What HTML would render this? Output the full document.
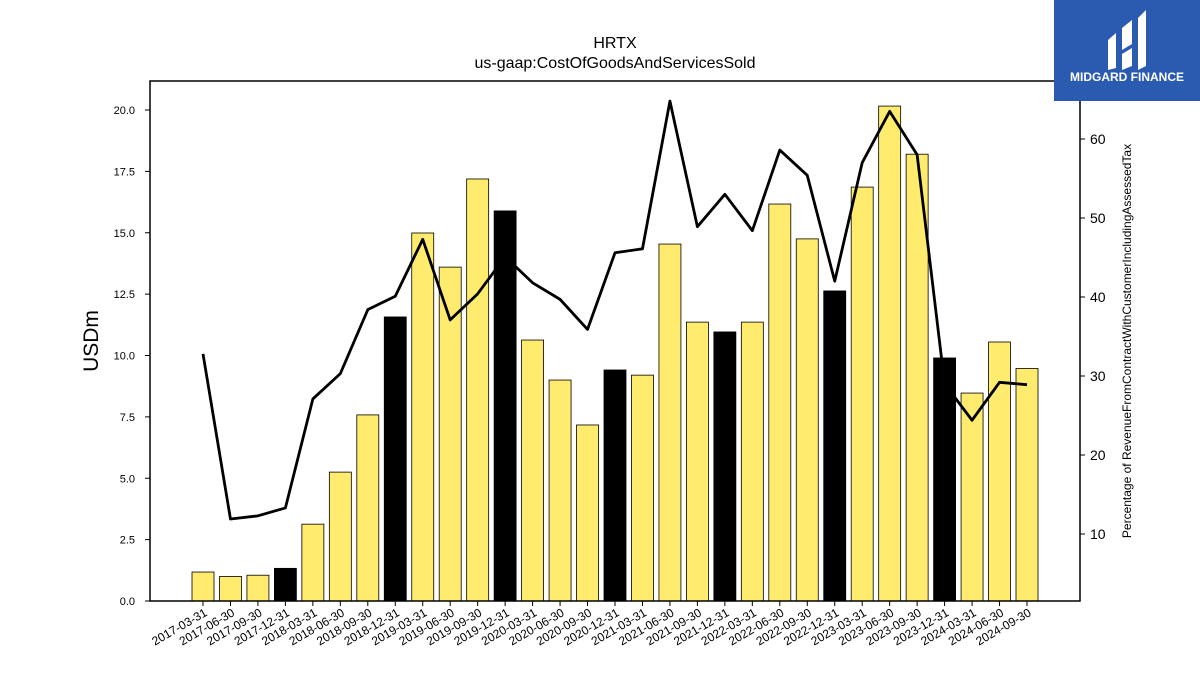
<!DOCTYPE html>
<html><head><meta charset="utf-8"><style>
body{margin:0;background:#fff;}
svg{display:block;font-family:"Liberation Sans","DejaVu Sans",sans-serif;}
</style></head><body>
<svg id="chart" width="1200" height="675">
<text x="615" y="48" text-anchor="middle" font-size="16">HRTX</text>
<text x="615" y="68" text-anchor="middle" font-size="16">us-gaap:CostOfGoodsAndServicesSold</text>
<g id="bars"></g>
<g id="line"></g>
<g id="axes"></g>
<rect x="150" y="81" width="930" height="520" fill="none" stroke="#000" stroke-width="1.5"/>
<text transform="translate(98,341) rotate(-90)" text-anchor="middle" font-size="21">USDm</text>
<text transform="translate(1131,341) rotate(-90)" text-anchor="middle" font-size="12">Percentage of RevenueFromContractWithCustomerIncludingAssessedTax</text>
<g>
<rect x="1054" y="0" width="146" height="101" fill="#2b5bb0"/>
<path d="M1108 40 L1116 33 L1116 68 L1108 70 Z M1122 28 L1132 20 L1132 44 L1122 50 Z M1122 54 L1132 48 L1132 66 L1122 70 Z M1138 18 L1146 10 L1146 66 L1138 70 Z" fill="#fff"/>
<text x="1127" y="81" text-anchor="middle" font-size="12" font-weight="bold" fill="#fff">MIDGARD FINANCE</text>
</g>
</svg>
<script>
const categories=["2017-03-31","2017-06-30","2017-09-30","2017-12-31","2018-03-31","2018-06-30","2018-09-30","2018-12-31","2019-03-31","2019-06-30","2019-09-30","2019-12-31","2020-03-31","2020-06-30","2020-09-30","2020-12-31","2021-03-31","2021-06-30","2021-09-30","2021-12-31","2022-03-31","2022-06-30","2022-09-30","2022-12-31","2023-03-31","2023-06-30","2023-09-30","2023-12-31","2024-03-31","2024-06-30","2024-09-30"];
const costValues=[1.18,1.0,1.05,1.33,3.13,5.25,7.58,11.57,14.99,13.6,17.19,15.89,10.63,9.0,7.17,9.41,9.2,14.54,11.36,10.96,11.36,16.17,14.75,12.63,16.86,20.16,18.2,9.9,8.47,10.55,9.47];
const pctValues=[32.8,11.9,12.3,13.3,27.1,30.3,38.4,40.1,47.3,37.1,40.4,45.1,41.8,39.7,35.9,45.6,46.1,64.8,48.9,53.0,48.4,58.6,55.4,42.0,57.0,63.5,58.0,29.0,24.4,29.2,28.9];
const leftTicks=[0,2.5,5,7.5,10,12.5,15,17.5,20];
const rightTicks=[10,20,30,40,50,60];
const NS="http://www.w3.org/2000/svg";
const x=i=>203+i*(1027-203)/(categories.length-1);
const yL=v=>601-v*(601-110)/20;
const yR=v=>613-v*7.9;
function mk(t,a,p){const e=document.createElementNS(NS,t);for(const k in a)e.setAttribute(k,a[k]);p.appendChild(e);return e;}
const bars=document.getElementById('bars'),line=document.getElementById('line'),axes=document.getElementById('axes');
costValues.forEach((v,i)=>{
 const isQ4=categories[i].endsWith("12-31");
 const r=mk('rect',{x:x(i)-11,y:yL(v),width:22,height:601-yL(v),fill:isQ4?'#000':'#ffeb6e',stroke:'#000','stroke-width':0.8},bars);
 
 
});
const pts=pctValues.map((v,i)=>x(i)+','+yR(v)).join(' ');
const pl=mk('polyline',{points:pts,fill:'none',stroke:'#000','stroke-width':2.8,'stroke-linejoin':'round'},line);


leftTicks.forEach(t=>{
 mk('line',{x1:145,x2:150,y1:yL(t),y2:yL(t),stroke:'#000'},axes);
 const tx=mk('text',{x:135,y:yL(t)+4,'text-anchor':'end','font-size':11},axes);tx.textContent=t.toFixed(1);
 
 
});
rightTicks.forEach(t=>{
 mk('line',{x1:1080,x2:1085,y1:yR(t),y2:yR(t),stroke:'#000'},axes);
 const tx=mk('text',{x:1090,y:yR(t)+5,'font-size':14},axes);tx.textContent=t;
 
 
});
categories.forEach((c,i)=>{
 mk('line',{x1:x(i),x2:x(i),y1:601,y2:606,stroke:'#000'},axes);
 const tx=mk('text',{transform:`translate(${x(i)+5},${615}) rotate(-30)`,'text-anchor':'end','font-size':12},axes);tx.textContent=c;
 
 
});
</script>
</body></html>
